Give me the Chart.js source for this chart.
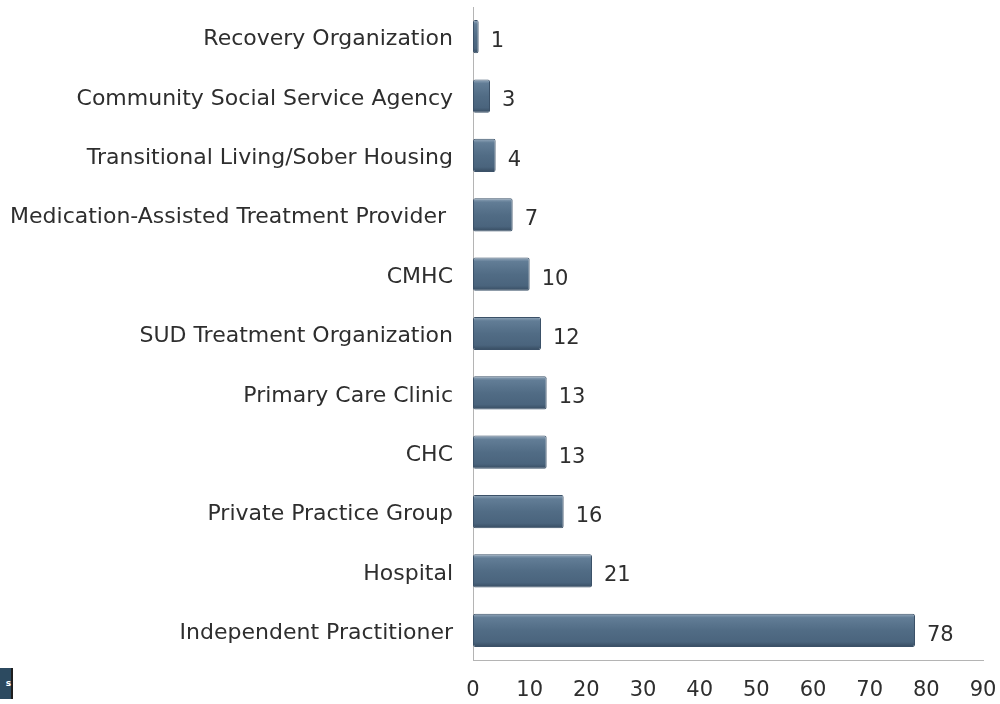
<!DOCTYPE html>
<html>
<head>
<meta charset="utf-8">
<script src="https://cdn.jsdelivr.net/npm/chart.js@4.4.0/dist/chart.umd.min.js"></script>
<style>
  html, body { margin: 0; padding: 0; background: #ffffff; }
  #wrap { position: relative; width: 1000px; height: 704px; }
  #logo { position: absolute; left: 0; top: 668px; width: 11px; height: 31px; background: #2c4a60;
          border-right: 2px solid #1e1e1e; color: #fff; font: bold 9px "DejaVu Sans"; line-height: 31px; text-align: right; }
</style>
</head>
<body>
<div id="wrap">
  <canvas id="chart" width="1000" height="704"></canvas>
  <div id="logo">s</div>
</div>
<script>
// ------------------- Data -------------------
const categories = [
    'Recovery Organization',
    'Community Social Service Agency',
    'Transitional Living/Sober Housing',
    'Medication-Assisted Treatment Provider ',
    'CMHC',
    'SUD Treatment Organization',
    'Primary Care Clinic',
    'CHC',
    'Private Practice Group',
    'Hospital',
    'Independent Practitioner'
];
const counts = [1, 3, 4, 7, 10, 12, 13, 13, 16, 21, 78];
const xTicks = [0, 10, 20, 30, 40, 50, 60, 70, 80, 90];

const FONT = 'DejaVu Sans';
const TEXT_COLOR = '#2e2e2e';
const BAR_PCT = 0.56;
const BASE_COLOR = '#506a83';

// bar fill: vertical gradient per bar, lighter top edge, darker bottom
function barFill(ctx) {
    const chart = ctx.chart;
    const y = chart.scales && chart.scales.y;
    if (!y || ctx.dataIndex === undefined) return BASE_COLOR;
    const step = Math.abs(y.getPixelForValue(1) - y.getPixelForValue(0));
    const center = y.getPixelForValue(ctx.dataIndex);
    if (!isFinite(step) || !isFinite(center) || step === 0) return BASE_COLOR;
    const half = step * BAR_PCT / 2;
    const g = chart.ctx.createLinearGradient(0, center - half, 0, center + half);
    g.addColorStop(0, '#97abbe');
    g.addColorStop(0.12, '#627d96');
    g.addColorStop(0.5, '#516c85');
    g.addColorStop(0.85, '#4a647d');
    g.addColorStop(1, '#364b60');
    return g;
}

// value labels to the right of each bar
const valueLabels = {
    id: 'valueLabels',
    afterDatasetsDraw(chart) {
        const ctx = chart.ctx;
        const meta = chart.getDatasetMeta(0);
        ctx.save();
        ctx.font = '21px "' + FONT + '"';
        ctx.fillStyle = TEXT_COLOR;
        ctx.textAlign = 'left';
        ctx.textBaseline = 'middle';
        meta.data.forEach((bar, i) => {
            ctx.fillText(String(counts[i]), bar.x + 12, bar.y + 5);
        });
        ctx.restore();
    }
};

new Chart(document.getElementById('chart'), {
    type: 'bar',
    data: {
        labels: categories,
        datasets: [{
            data: counts,
            backgroundColor: barFill,
            borderColor: '#3b5168',
            borderWidth: 1,
            borderRadius: 2,
            borderSkipped: false,
            barPercentage: BAR_PCT,
            categoryPercentage: 1
        }]
    },
    options: {
        indexAxis: 'y',
        responsive: false,
        animation: false,
        layout: { padding: { top: 7, right: 17, bottom: 0, left: 0 } },
        plugins: {
            legend: { display: false },
            tooltip: { enabled: false }
        },
        scales: {
            x: {
                min: 0,
                max: 90,
                afterBuildTicks(axis) {
                    axis.ticks = xTicks.map(v => ({ value: v }));
                },
                afterFit(axis) {
                    axis.height = 44;
                    axis.paddingLeft = 0;
                    axis.paddingRight = 0;
                },
                grid: { display: false, drawTicks: false },
                border: { display: true, color: '#b4b4b4', width: 1 },
                ticks: {
                    color: TEXT_COLOR,
                    padding: 18,
                    font: { family: FONT, size: 21 }
                }
            },
            y: {
                afterFit(axis) {
                    axis.width = 473;
                    axis.paddingTop = 0;
                    axis.paddingBottom = 0;
                },
                grid: { display: false, drawTicks: false },
                border: { display: true, color: '#b4b4b4', width: 1 },
                ticks: {
                    color: TEXT_COLOR,
                    padding: 20,
                    labelOffset: 3,
                    font: { family: FONT, size: 22 }
                }
            }
        }
    },
    plugins: [valueLabels]
});
</script>
</body>
</html>
